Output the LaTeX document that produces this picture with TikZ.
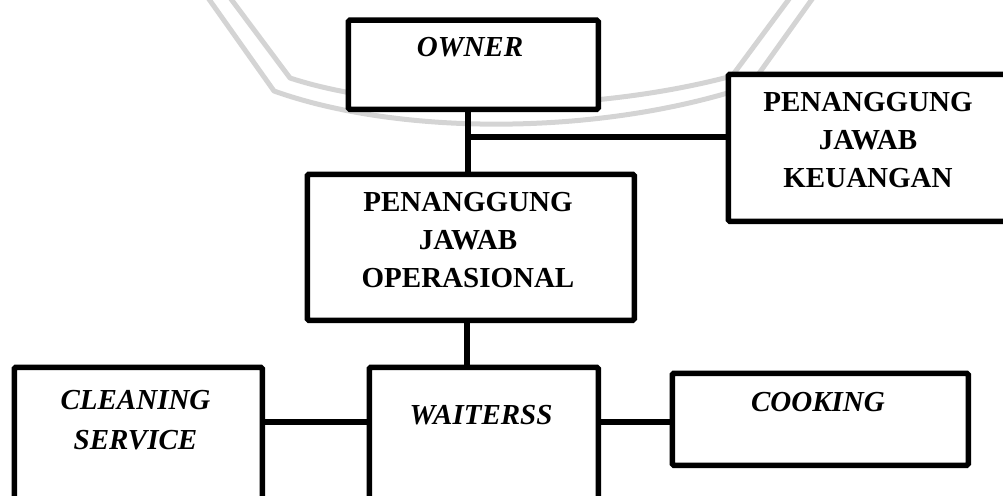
\documentclass[tikz,border=0pt]{standalone}
\usepackage{fontspec}
\setmainfont{Liberation Serif}
\begin{document}
\begin{tikzpicture}[x=1pt,y=-1pt,
  box/.style={draw=black,line width=5.5pt,rounded corners=1.5pt,fill=white,inner sep=0pt,anchor=north west},
  conn/.style={draw=black,line width=5.5pt},
  lbl/.style={inner sep=0pt,anchor=north,align=center,font=\fontsize{29}{38}\selectfont\bfseries},
  ilbl/.style={lbl,font=\fontsize{29}{40}\selectfont\bfseries\itshape},
  wm/.style={draw=black!17,line width=5pt,line join=round}]
\useasboundingbox (0,0) rectangle (1003,495);
\begin{scope}
\clip (0,0) rectangle (1003,495);
% faint watermark
\draw[wm] (206,-5) -- (274,91) .. controls (400,136) and (600,136) .. (750,86) -- (815,-5);
\draw[wm] (228,-5) -- (290,78) .. controls (400,114) and (590,114) .. (732,76) -- (792,-5);
% connectors
\coordinate (j1) at (468,137);
\coordinate (j2) at (467,340);
\coordinate (j3) at (480,422);
% boxes
\node[box,minimum width=250pt,minimum height=89pt] (owner) at (345.5,17.5) {};
\node[box,minimum width=327pt,minimum height=146pt] (pjo) at (304.5,171.5) {};
\node[box,minimum width=290pt,minimum height=147pt] (pjk) at (725.5,71.5) {};
\node[box,minimum width=248pt,minimum height=150pt] (clean) at (11.5,364.5) {};
\node[box,minimum width=229pt,minimum height=150pt] (wait) at (366.5,364.5) {};
\node[box,minimum width=296pt,minimum height=92pt] (cook) at (669.5,370.5) {};
\draw[conn] (owner.south -| j1) -- (pjo.north -| j1);
\draw[conn] (j1) -- (pjk.west |- j1);
\draw[conn] (pjo.south -| j2) -- (wait.north -| j2);
\draw[conn] (clean.east |- j3) -- (wait.west |- j3);
\draw[conn] (wait.east |- j3) -- (cook.west |- j3);
% labels
\node[ilbl] (towner) at (470,37) {OWNER};
\node[lbl] (tpjo) at (468,192) {PENANGGUNG\\JAWAB\\OPERASIONAL};
\node[lbl] (tpjk) at (868,92) {PENANGGUNG\\JAWAB\\KEUANGAN};
\node[ilbl] (tclean) at (135.5,390) {CLEANING\\SERVICE};
\node[ilbl] (twait) at (481,405) {WAITERSS};
\node[ilbl] (tcook) at (818,392) {COOKING};
\end{scope}
\end{tikzpicture}
\end{document}
